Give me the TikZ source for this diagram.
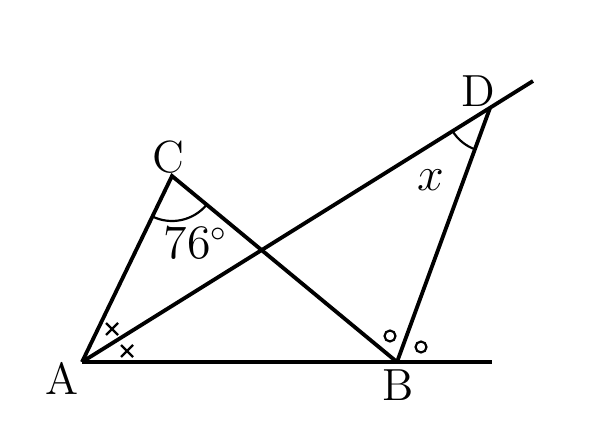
\documentclass[tikz,border=0pt]{standalone}
\usetikzlibrary{angles}
\begin{document}
\begin{tikzpicture}[x=0.3pt, y=0.3pt,
    seg/.style={line width=1.15pt},
    thinline/.style={line width=0.65pt},
    every node/.style={font=\fontsize{13.5}{16}\selectfont}]
    \useasboundingbox (0,0) rectangle (615,447);
    \coordinate (A) at (82,85);
    \coordinate (B) at (397,85);
    \coordinate (C) at (172,271);
    \coordinate (D) at (490,339);
    \coordinate (E) at (533,366);
    \coordinate (F) at (492,85);

    \draw[seg] (A) -- (C) -- (B);
    \draw[seg] (A) -- (E);
    \draw[seg] (A) -- (F);
    \draw[seg] (B) -- (D);

    \pic[draw, thinline, angle radius=13.5pt] {angle=A--C--B};
    \pic[draw, thinline, angle radius=13.2pt] {angle=A--D--B};

    \coordinate (m1) at (112,118);
    \coordinate (m2) at (127,96);
    \draw[thinline] (m1) ++(-6,-6) -- ++(12,12) (m1) ++(-6,6) -- ++(12,-12);
    \draw[thinline] (m2) ++(-6,-6) -- ++(12,12) (m2) ++(-6,6) -- ++(12,-12);
    \draw[thinline] (390,111) circle (5.5);
    \draw[thinline] (421,100) circle (5.5);

    \node (lA) at (62,69) {A};
    \node (lB) at (398,62) {B};
    \node (lC) at (168,290) {C};
    \node (lD) at (478,356) {D};
    \node (ang) at (196,204) {$76^\circ$};
    \node (lx) at (431,267) {$x$};
\end{tikzpicture}
\end{document}
